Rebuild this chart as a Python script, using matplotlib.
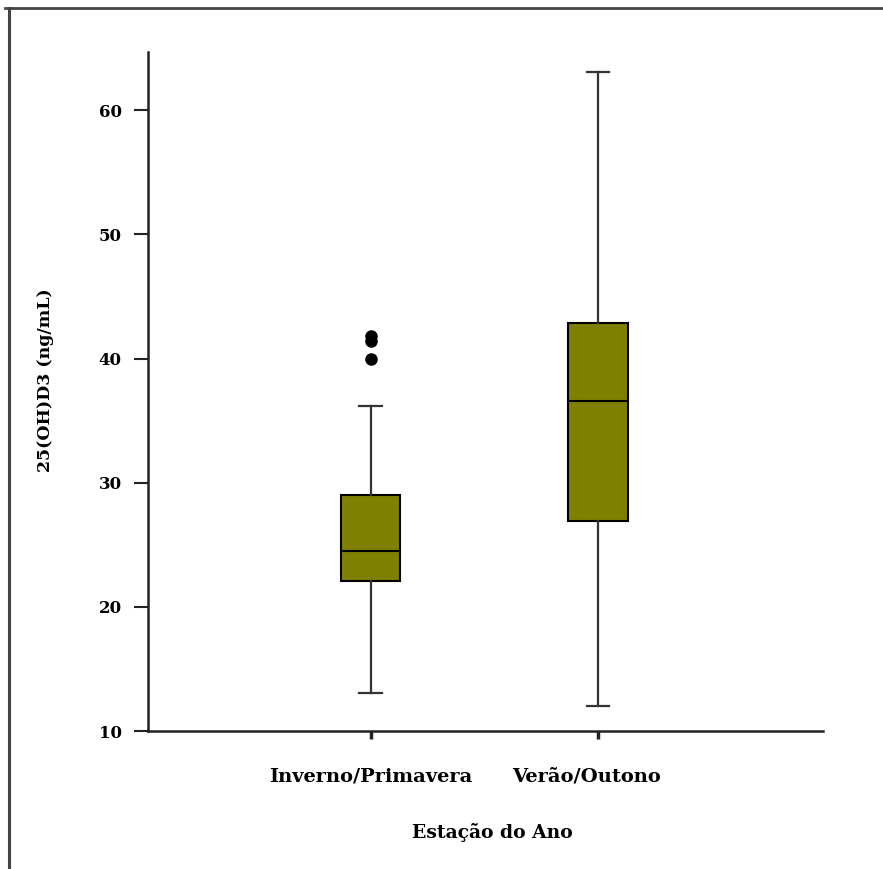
import matplotlib
matplotlib.use("Agg")
import matplotlib.pyplot as plt
from matplotlib.lines import Line2D
from matplotlib.transforms import ScaledTranslation

categories = ["Inverno/Primavera", "Verão/Outono"]
whisker_low = [13.1, 12.0]
q1 = [22.1, 26.9]
median = [24.5, 36.6]
q3 = [29.0, 42.9]
whisker_high = [36.2, 63.1]
outliers = [[40.0, 41.4, 41.8], []]
yticks = [10, 20, 30, 40, 50, 60]

W, H = 883, 869
fig = plt.figure(figsize=(W / 100, H / 100), dpi=100)
ax = fig.add_axes([148 / W, 1 - 731 / H, (823 - 148) / W, (731 - 52) / H])

stats = []
for i, c in enumerate(categories):
    stats.append(dict(label=c, whislo=whisker_low[i], q1=q1[i], med=median[i],
                      q3=q3[i], whishi=whisker_high[i], fliers=outliers[i]))

ax.bxp(stats, positions=[1, 2], widths=0.26, patch_artist=True,
       boxprops=dict(facecolor="#808000", edgecolor="black", linewidth=1.5),
       medianprops=dict(color="black", linewidth=1.5),
       whiskerprops=dict(color="#333333", linewidth=1.6),
       capprops=dict(color="#333333", linewidth=1.6),
       capwidths=0.1,
       flierprops=dict(marker="o", markerfacecolor="black", markeredgecolor="black",
                       markersize=8, linestyle="none"))

ax.set_xlim(0.02, 2.99)
ax.set_ylim(10, 64.7)
ax.set_yticks(yticks)
ax.set_yticklabels([str(t) for t in yticks])
ax.set_xticks([1, 2])
ax.set_xticklabels(categories)

for s in ["top", "right"]:
    ax.spines[s].set_visible(False)
for s in ["left", "bottom"]:
    ax.spines[s].set_linewidth(1.8)
    ax.spines[s].set_color("#222222")

serif = ["DejaVu Serif"]
ax.tick_params(axis="y", length=10, width=1.5, pad=9, labelsize=12, colors="#222222")
ax.tick_params(axis="x", length=6, width=2.5, pad=20, labelsize=14, colors="#222222")
for lab in ax.get_yticklabels() + ax.get_xticklabels():
    lab.set_family(serif)
    lab.set_fontweight("bold")
    lab.set_color("black")

# second category label sits slightly left of its tick in the original
xl = ax.get_xticklabels()
xl[1].set_transform(xl[1].get_transform() + ScaledTranslation(-11 / 100, 0, fig.dpi_scale_trans))

ax.set_ylabel("25(OH)D3 (ng/mL)", family=serif, fontweight="bold", fontsize=12.5)
ax.yaxis.label.set_va("center")
ax.yaxis.set_label_coords(-(148 - 46) / 675, 0.517)
ax.set_xlabel("Estação do Ano", family=serif, fontweight="bold", fontsize=13.5)
ax.xaxis.label.set_va("center")
ax.xaxis.set_label_coords((492 - 148) / 675, -(833 - 731) / 679)

# figure frame lines (top and left)
fig.add_artist(Line2D([5 / W, 1], [1 - 8 / H, 1 - 8 / H], transform=fig.transFigure,
                      color="#444444", linewidth=2))
fig.add_artist(Line2D([9 / W, 9 / W], [0, 1 - 8 / H], transform=fig.transFigure,
                      color="#444444", linewidth=2.2))

fig.savefig("out.png", dpi=100, facecolor="white")
